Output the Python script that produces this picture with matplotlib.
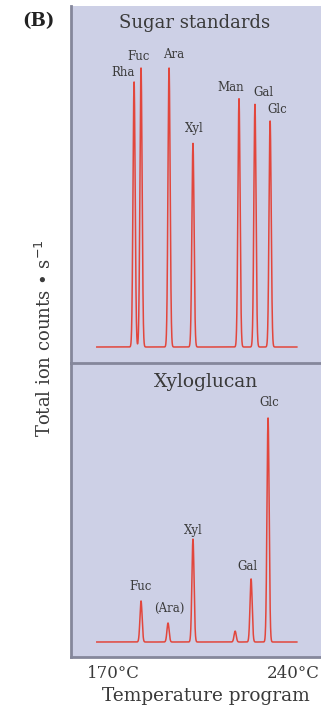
import numpy as np
import matplotlib
matplotlib.use("Agg")
import matplotlib.pyplot as plt

# Retention temperatures (°C) and relative peak heights for each run
std_names = ["Rha", "Fuc", "Ara", "Xyl", "Man", "Gal", "Glc"]
std_temps = [178.2, 180.9, 191.8, 201.1, 219.0, 225.2, 231.1]
std_heights = [95, 100, 100, 73, 89, 87, 81]

xg_names = ["Fuc", "(Ara)", "Xyl", "", "Gal", "Glc"]
xg_temps = [180.9, 191.4, 201.1, 217.5, 223.7, 230.3]
xg_heights = [14.7, 6.8, 36.9, 3.9, 22.6, 80.3]

tick_temps = [170, 240]
tick_labels = ["170°C", "240°C"]

W, H = 321, 708
BG = "#cdd0e6"
EDGE = "#85879b"
RED = "#e2463c"
TXT = "#3a3a3a"
SERIF = ["DejaVu Serif"]

fig = plt.figure(figsize=(W / 100, H / 100), dpi=100)


def ax_at(left, top, right, bottom):
    return fig.add_axes([left / W, 1 - bottom / H, (right - left) / W, (bottom - top) / H])


# temperature axis: 170°C at 113 px, 240°C at 293 px
px_per_deg = 180 / 70
x_left = 170 - (113 - 71) / px_per_deg
x_right = 240 + (321 - 293) / px_per_deg
run_start, run_end = 163.7, 241.5


def trace(temps, heights, sigma=0.42):
    t = np.linspace(run_start, run_end, 3000)
    y = np.zeros_like(t)
    for c, h in zip(temps, heights):
        y += h * np.exp(-0.5 * ((t - c) / sigma) ** 2)
    return t, y


ax1 = ax_at(71, 6, 321, 363)
ax2 = ax_at(71, 363, 321, 657)

# one intensity unit spans 2.79 px in both panels
unit = 2.79
for ax, top, bottom, base in [(ax1, 6, 363, 347), (ax2, 363, 657, 642)]:
    ax.set_facecolor(BG)
    ax.set_xlim(x_left, x_right)
    ax.set_ylim(-(bottom - base) / unit, (base - top) / unit)
    ax.set_xticks([])
    ax.set_yticks([])
    for s in ax.spines.values():
        s.set_visible(False)
    ax.spines["left"].set_visible(True)
    ax.spines["left"].set_color(EDGE)
    ax.spines["left"].set_linewidth(2.0)

for side in ["top", "bottom"]:
    ax2.spines[side].set_visible(True)
    ax2.spines[side].set_color(EDGE)
    ax2.spines[side].set_linewidth(2.0)

t, y = trace(std_temps, std_heights)
ax1.plot(t, y, color=RED, lw=1.1)
t, y = trace(xg_temps, xg_heights)
ax2.plot(t, y, color=RED, lw=1.1)

# peak labels, offset in pixels from each apex
std_offsets = {"Rha": (-11, 9), "Fuc": (-2, 11), "Ara": (5, 14), "Xyl": (1, 15),
               "Man": (-8, 11), "Gal": (8, 12), "Glc": (7, 12)}
for n, c, h in zip(std_names, std_temps, std_heights):
    dx, dy = std_offsets[n]
    ax1.annotate(n, (c, h), xytext=(dx, dy), textcoords="offset pixels",
                 ha="center", va="center", fontsize=8.5, family=SERIF, color=TXT)

xg_offsets = {"Fuc": (0, 14), "(Ara)": (1, 15), "Xyl": (0, 9), "Gal": (-4, 12), "Glc": (1, 15)}
for n, c, h in zip(xg_names, xg_temps, xg_heights):
    if not n:
        continue
    dx, dy = xg_offsets[n]
    ax2.annotate(n, (c, h), xytext=(dx, dy), textcoords="offset pixels",
                 ha="center", va="center", fontsize=8.5, family=SERIF, color=TXT)

fig.text(195 / W, 1 - 23 / H, "Sugar standards", ha="center", va="center",
         fontsize=13, family=SERIF, color=TXT)
fig.text(206 / W, 1 - 382 / H, "Xyloglucan", ha="center", va="center",
         fontsize=13.5, family=SERIF, color=TXT)

for tt, lab in zip(tick_temps, tick_labels):
    xp = 113 + (tt - 170) * px_per_deg
    fig.text(xp / W, 1 - 674 / H, lab, ha="center", va="center",
             fontsize=12, family=SERIF, color=TXT)
fig.text(206 / W, 1 - 696 / H, "Temperature program", ha="center", va="center",
         fontsize=13.3, family=SERIF, color=TXT)

fig.text(45 / W, 1 - 338 / H, "Total ion counts • s$^{-1}$", rotation=90,
         ha="center", va="center", fontsize=13, family=SERIF, color=TXT)

fig.text(38 / W, 1 - 21 / H, "(B)", ha="center", va="center",
         fontsize=13, fontweight="bold", family=SERIF, color="#222222")

fig.savefig("out.png", dpi=100, facecolor="white")
